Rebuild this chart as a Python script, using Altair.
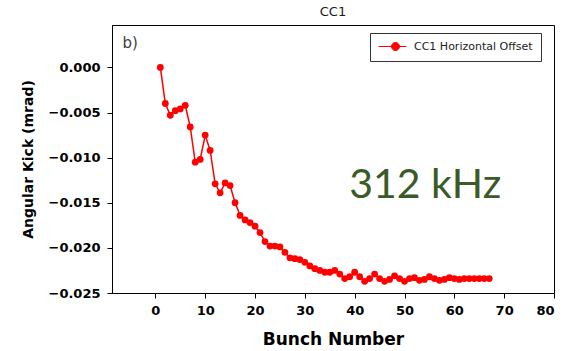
import altair as alt
import pandas as pd

# Bunch index and measured angular kick (mrad) for the CC1 horizontal offset scan
bunch = list(range(1, 68))
kick = [
    0.0000, -0.0040, -0.0053, -0.0048, -0.0046, -0.0042, -0.0066, -0.0105, -0.0102, -0.0075,
    -0.0092, -0.0129, -0.0139, -0.0128, -0.0131, -0.0150, -0.0164, -0.0169, -0.0172, -0.0176,
    -0.0183, -0.0193, -0.0198, -0.0198, -0.0199, -0.0205, -0.0211, -0.0212, -0.0213, -0.0216,
    -0.0220, -0.0223, -0.0225, -0.0227, -0.0227, -0.0225, -0.0229, -0.0234, -0.0232, -0.0227,
    -0.0232, -0.0237, -0.0234, -0.0229, -0.0234, -0.0237, -0.0235, -0.0231, -0.0234, -0.0237,
    -0.0234, -0.0233, -0.0236, -0.0235, -0.0232, -0.0234, -0.0236, -0.0235, -0.0233, -0.0234,
    -0.0235, -0.0234, -0.0234, -0.0234, -0.0234, -0.0234, -0.0234,
]
series_name = "CC1 Horizontal Offset"

x_ticks = [0, 10, 20, 30, 40, 50, 60, 70, 80]
y_ticks = [-0.025, -0.020, -0.015, -0.010, -0.005, 0.000]

RED = "#ff0000"
FONT = "DejaVu Sans"

df = pd.DataFrame({"bunch": bunch, "kick": kick, "series": series_name})

x_enc = alt.X(
    "bunch:Q",
    scale=alt.Scale(domain=[-8.7, 80], nice=False, zero=False),
    axis=alt.Axis(values=x_ticks, title="Bunch Number", format="d"),
)
y_enc = alt.Y(
    "kick:Q",
    scale=alt.Scale(domain=[-0.025, 0.0047], nice=False, zero=False),
    axis=alt.Axis(values=y_ticks, title="Angular Kick (mrad)", format=".3f"),
)

line = alt.Chart(df).mark_line(color=RED, strokeWidth=1.5).encode(x=x_enc, y=y_enc)

# legend symbol: short line with a filled circle on it
legend_symbol = "M-1,0L4.6,0M1.6,0A0.8,0.8 0 1,0 3.2,0A0.8,0.8 0 1,0 1.6,0Z"

points = alt.Chart(df).mark_point(filled=True, size=46, opacity=1).encode(
    x=x_enc,
    y=y_enc,
    color=alt.Color(
        "series:N",
        scale=alt.Scale(range=[RED]),
        legend=alt.Legend(
            title=None,
            orient="none",
            legendX=258,
            legendY=8,
            symbolType=legend_symbol,
            symbolSize=100,
            symbolStrokeWidth=1,
            symbolFillColor=RED,
            symbolStrokeColor=RED,
            labelOffset=25,
            labelFont=FONT,
            labelFontSize=11,
            labelColor="#222222",
            padding=8,
            strokeColor="#333333",
            fillColor="white",
        ),
    ),
)

annot = pd.DataFrame({"bunch": [-6.6], "kick": [0.0027], "txt": ["b)"]})
label_b = alt.Chart(annot).mark_text(
    align="left", baseline="middle", font=FONT, fontSize=15, color="#404040"
).encode(x="bunch:Q", y="kick:Q", text="txt:N")

freq = pd.DataFrame({"bunch": [38.9], "kick": [-0.0131], "txt": ["312 kHz"]})
label_freq = alt.Chart(freq).mark_text(
    align="left", baseline="middle", font="Lato", fontSize=41, color="#3a5a27"
).encode(x="bunch:Q", y="kick:Q", text="txt:N")

chart = (
    alt.layer(line, points, label_b, label_freq)
    .properties(
        width=442,
        height=268,
        title=alt.TitleParams("CC1", font=FONT, fontSize=13, fontWeight="normal", color="#1a1a1a", offset=6),
        autosize=alt.AutoSizeParams(type="none"),
        padding={"left": 112, "top": 25, "right": 12, "bottom": 58},
    )
    .configure_view(stroke="#000000", strokeWidth=1)
    .configure_axis(
        grid=False,
        domainColor="#000000",
        tickColor="#000000",
        tickSize=5,
        labelFont=FONT,
        labelFontWeight="bold",
        labelFontSize=13,
        labelColor="#000000",
        titleFont=FONT,
        titleFontWeight="bold",
        titleColor="#000000",
    )
    .configure_axisX(labelPadding=6, titleFontSize=17, titlePadding=14)
    .configure_axisY(labelPadding=7, titleFontSize=14, titlePadding=12)
)

chart.save("out.html", embed_options={"renderer": "svg", "actions": False})
